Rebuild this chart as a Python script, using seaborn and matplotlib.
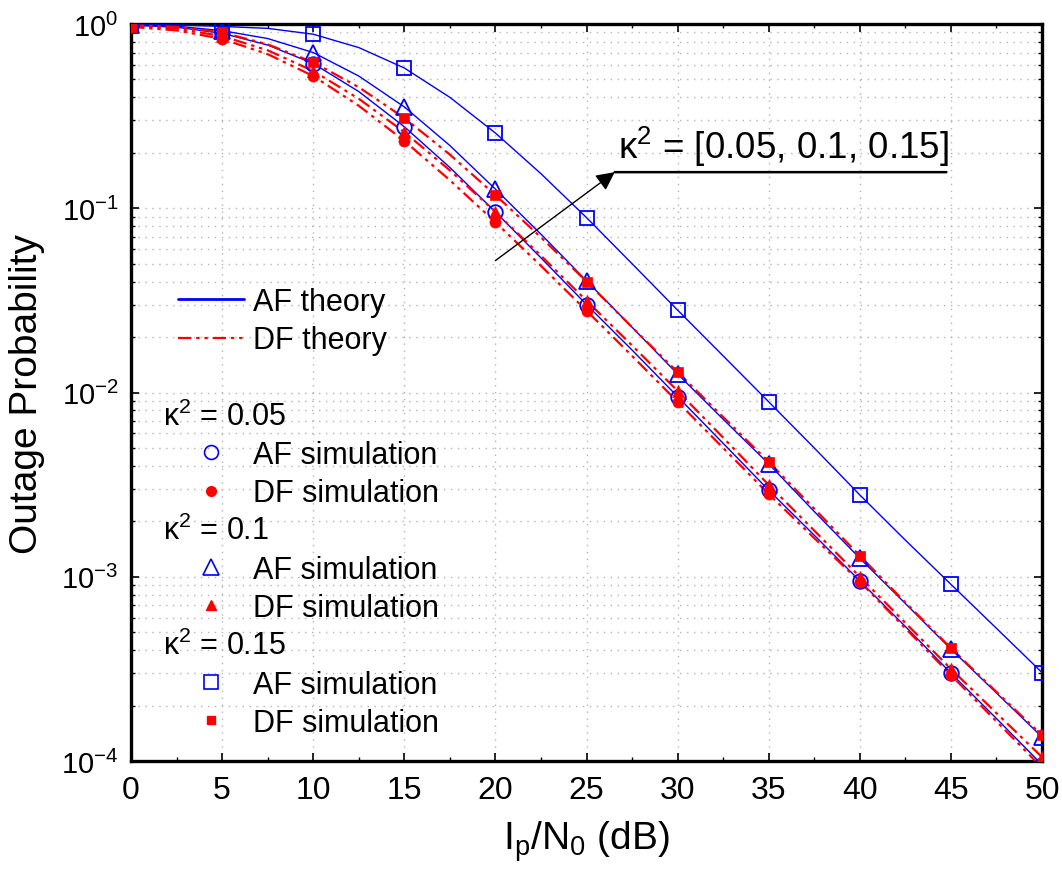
import numpy as np
import pandas as pd
import matplotlib
matplotlib.use("Agg")
import matplotlib.pyplot as plt
import seaborn as sns
from matplotlib import font_manager
from matplotlib.lines import Line2D
from matplotlib.ticker import LogLocator, NullFormatter, FixedLocator, MultipleLocator

# ---------------- data ----------------
snr_sim = [0, 5, 10, 15, 20, 25, 30, 35, 40, 45, 50]
af_sim_005 = [0.985, 0.89, 0.61, 0.277, 0.0955, 0.030, 0.0095, 0.00295, 0.00095, 0.000300, 0.0000955]
df_sim_005 = [0.965, 0.83, 0.522, 0.232, 0.084, 0.0278, 0.0089, 0.00281, 0.00094, 0.000293, 0.000092]
af_sim_010 = [0.99, 0.92, 0.70, 0.355, 0.127, 0.0404, 0.0126, 0.0041, 0.00126, 0.000405, 0.000135]
df_sim_010 = [0.975, 0.86, 0.556, 0.259, 0.0955, 0.0315, 0.0102, 0.00315, 0.0010, 0.000316, 0.000105]
af_sim_015 = [0.99, 0.97, 0.88, 0.577, 0.256, 0.089, 0.028, 0.0089, 0.00278, 0.00091, 0.000302]
df_sim_015 = [0.985, 0.90, 0.62, 0.309, 0.118, 0.040, 0.0129, 0.0042, 0.0013, 0.00041, 0.000138]

snr_th = [0, 2.5, 5, 7.5, 10, 12.5, 15, 17.5, 20, 22.5, 25, 27.5, 30, 32.5, 35, 37.5, 40, 42.5, 45, 47.5, 50]
af_th_005 = [0.985, 0.961, 0.89, 0.769, 0.61, 0.43, 0.277, 0.1665, 0.0955, 0.0538, 0.030, 0.017, 0.0095,
             0.0053, 0.00295, 0.00168, 0.00095, 0.000537, 0.000300, 0.00017, 0.0000955]
df_th_005 = [0.965, 0.923, 0.83, 0.686, 0.522, 0.36, 0.232, 0.142, 0.084, 0.0487, 0.0278, 0.0158, 0.0089,
             0.0050, 0.00281, 0.00162, 0.00094, 0.000525, 0.000293, 0.000164, 0.000092]
af_th_010 = [0.99, 0.973, 0.92, 0.834, 0.70, 0.522, 0.355, 0.219, 0.127, 0.0723, 0.0404, 0.0226, 0.0126,
             0.00716, 0.0041, 0.00226, 0.00126, 0.000716, 0.000405, 0.000234, 0.000135]
df_th_010 = [0.975, 0.944, 0.86, 0.72, 0.556, 0.393, 0.259, 0.1606, 0.0955, 0.0553, 0.0315, 0.018, 0.0102,
             0.00569, 0.00315, 0.00178, 0.0010, 0.000562, 0.000316, 0.000182, 0.000105]
af_th_015 = [0.99, 0.988, 0.97, 0.947, 0.88, 0.745, 0.577, 0.40, 0.256, 0.154, 0.089, 0.050, 0.028,
             0.0158, 0.0089, 0.0050, 0.00278, 0.00158, 0.00091, 0.000525, 0.000302]
df_th_015 = [0.985, 0.965, 0.90, 0.775, 0.62, 0.454, 0.309, 0.1956, 0.118, 0.0695, 0.040, 0.0226, 0.0129,
             0.00736, 0.0042, 0.00234, 0.0013, 0.000725, 0.00041, 0.000237, 0.000138]

x_ticks = [0, 5, 10, 15, 20, 25, 30, 35, 40, 45, 50]
y_ticks = [1e-4, 1e-3, 1e-2, 1e-1, 1e0]
y_tick_labels = [r"$10^{-4}$", r"$10^{-3}$", r"$10^{-2}$", r"$10^{-1}$", r"$10^{0}$"]
kappa_labels = [r"κ$^{2}$ = 0.05", r"κ$^{2}$ = 0.1", r"κ$^{2}$ = 0.15"]
annot_text = r"κ$^{2}$ = [0.05, 0.1, 0.15]"

# ---------------- style ----------------
sns.set_theme(style="ticks")
names = {f.name for f in font_manager.fontManager.ttflist}
NARROW = "Liberation Sans Narrow" if "Liberation Sans Narrow" in names else "Liberation Sans"
plt.rcParams["font.family"] = ["Liberation Sans", "DejaVu Sans"]
plt.rcParams["mathtext.fontset"] = "custom"
plt.rcParams["mathtext.rm"] = "Liberation Sans"
plt.rcParams["mathtext.default"] = "regular"
for k in ("text.color", "axes.labelcolor", "xtick.color", "ytick.color", "axes.edgecolor"):
    plt.rcParams[k] = "black"

BLUE = "#0000FF"
RED = "#FF0000"
DD = (0, (6, 2.2, 1.5, 2.2, 1.5, 2.2))

fig = plt.figure(figsize=(10.62, 8.78), dpi=100)
ax = fig.add_axes([131 / 1062, 1 - 762 / 878, (1042 - 131) / 1062, (762 - 25) / 878])

# theory curves
for y in (af_th_005, af_th_010, af_th_015):
    sns.lineplot(x=snr_th, y=y, ax=ax, color=BLUE, lw=1.0, zorder=3)
for y in (df_th_005, df_th_010, df_th_015):
    sns.lineplot(x=snr_th, y=y, ax=ax, color=RED, lw=1.6, linestyle=DD, zorder=3)

# simulation markers
af_specs = [(af_sim_005, "o", 10.5), (af_sim_010, "^", 12), (af_sim_015, "s", 10)]
df_specs = [(df_sim_005, "o", 8), (df_sim_010, "^", 8), (df_sim_015, "s", 7)]
for y, m, ms in af_specs:
    sns.lineplot(x=snr_sim, y=y, ax=ax, marker=m, linestyle="none", markersize=ms,
                 markerfacecolor="none", markeredgecolor=BLUE, markeredgewidth=1.3,
                 color=BLUE, zorder=4)
for y, m, ms in df_specs:
    sns.lineplot(x=snr_sim, y=y, ax=ax, marker=m, linestyle="none", markersize=ms,
                 markerfacecolor=RED, markeredgecolor=RED, markeredgewidth=0.5,
                 color=RED, zorder=5)

ax.set_yscale("log")
ax.set_xlim(0, 50)
ax.set_ylim(1e-4, 1)

ax.xaxis.set_major_locator(FixedLocator(x_ticks))
ax.xaxis.set_minor_locator(MultipleLocator(2.5))
ax.set_xticklabels([str(t) for t in x_ticks], fontfamily=NARROW, fontsize=23)
ax.yaxis.set_major_locator(FixedLocator(y_ticks))
ax.yaxis.set_minor_locator(LogLocator(base=10, subs=np.arange(2, 10)))
ax.yaxis.set_minor_formatter(NullFormatter())
ax.set_yticklabels(y_tick_labels, fontsize=21)

ax.tick_params(axis="both", which="major", direction="in", length=6, width=1.2,
               top=True, right=True, colors="black")
ax.tick_params(axis="both", which="minor", direction="in", length=3, width=1.0,
               top=True, right=True, colors="black")
ax.tick_params(axis="x", which="major", pad=10)
ax.tick_params(axis="y", which="major", pad=9)

ax.grid(True, which="major", axis="x", color="#b4b4b4", linestyle=(0, (1, 4)), lw=1.0)
ax.grid(True, which="both", axis="y", color="#b4b4b4", linestyle=(0, (1, 4)), lw=1.0)
for s in ax.spines.values():
    s.set_linewidth(2.4)
    s.set_color("black")

ax.set_xlabel(r"I$_p$/N$_0$ (dB)", fontsize=28, fontfamily=NARROW, labelpad=10, color="black")
ax.set_ylabel("Outage Probability", fontsize=28, fontfamily=NARROW, labelpad=12, color="black")

# annotation arrow + underlined text
ax.annotate("", xy=(26.55, 0.157), xytext=(20.0, 0.052),
            arrowprops=dict(arrowstyle="-|>", color="black", lw=1.0, mutation_scale=28,
                            shrinkA=0, shrinkB=0), zorder=6)
ax.annotate("", xy=(44.75, 0.157), xytext=(26.55, 0.157),
            arrowprops=dict(arrowstyle="-", color="black", lw=1.8, shrinkA=0, shrinkB=0), zorder=6)
ax.text(26.75, 0.188, annot_text, fontsize=26.5, ha="left", va="baseline", color="black", zorder=6)

# legend
blank = Line2D([], [], linestyle="none")
h_af_th = Line2D([], [], color=BLUE, lw=2.0)
h_df_th = Line2D([], [], color=RED, lw=1.6, linestyle=DD)
def af_h(m, ms):
    return Line2D([], [], linestyle="none", marker=m, markersize=ms, markerfacecolor="none",
                  markeredgecolor=BLUE, markeredgewidth=1.2)
def df_h(m, ms):
    return Line2D([], [], linestyle="none", marker=m, markersize=ms, markerfacecolor=RED,
                  markeredgecolor=RED)
handles = [h_af_th, h_df_th, blank,
           blank, af_h("o", 10), df_h("o", 7),
           blank, af_h("^", 11), df_h("^", 7),
           blank, af_h("s", 10), df_h("s", 6)]
labels = ["AF theory", "DF theory", " ",
          " ", "AF simulation", "DF simulation",
          " ", "AF simulation", "DF simulation",
          " ", "AF simulation", "DF simulation"]
leg = ax.legend(handles, labels, loc="upper left", bbox_to_anchor=(178 / 1062, 1 - 288 / 878),
                bbox_transform=fig.transFigure, frameon=False, fontsize=22,
                handlelength=2.15, handletextpad=0.3, labelspacing=0.27, borderpad=0,
                borderaxespad=0)
for t in leg.get_texts():
    t.set_color("black")

fig.canvas.draw()
texts = leg.get_texts()
for idx, lab in zip([3, 6, 9], kappa_labels):
    t = texts[idx]
    yb = t.get_transform().transform(t.get_position())[1]
    fig.text(163 / 1062, yb / fig.bbox.height, lab, fontsize=22, ha="left", va="baseline",
             color="black")

fig.savefig("out.png", dpi=100)
